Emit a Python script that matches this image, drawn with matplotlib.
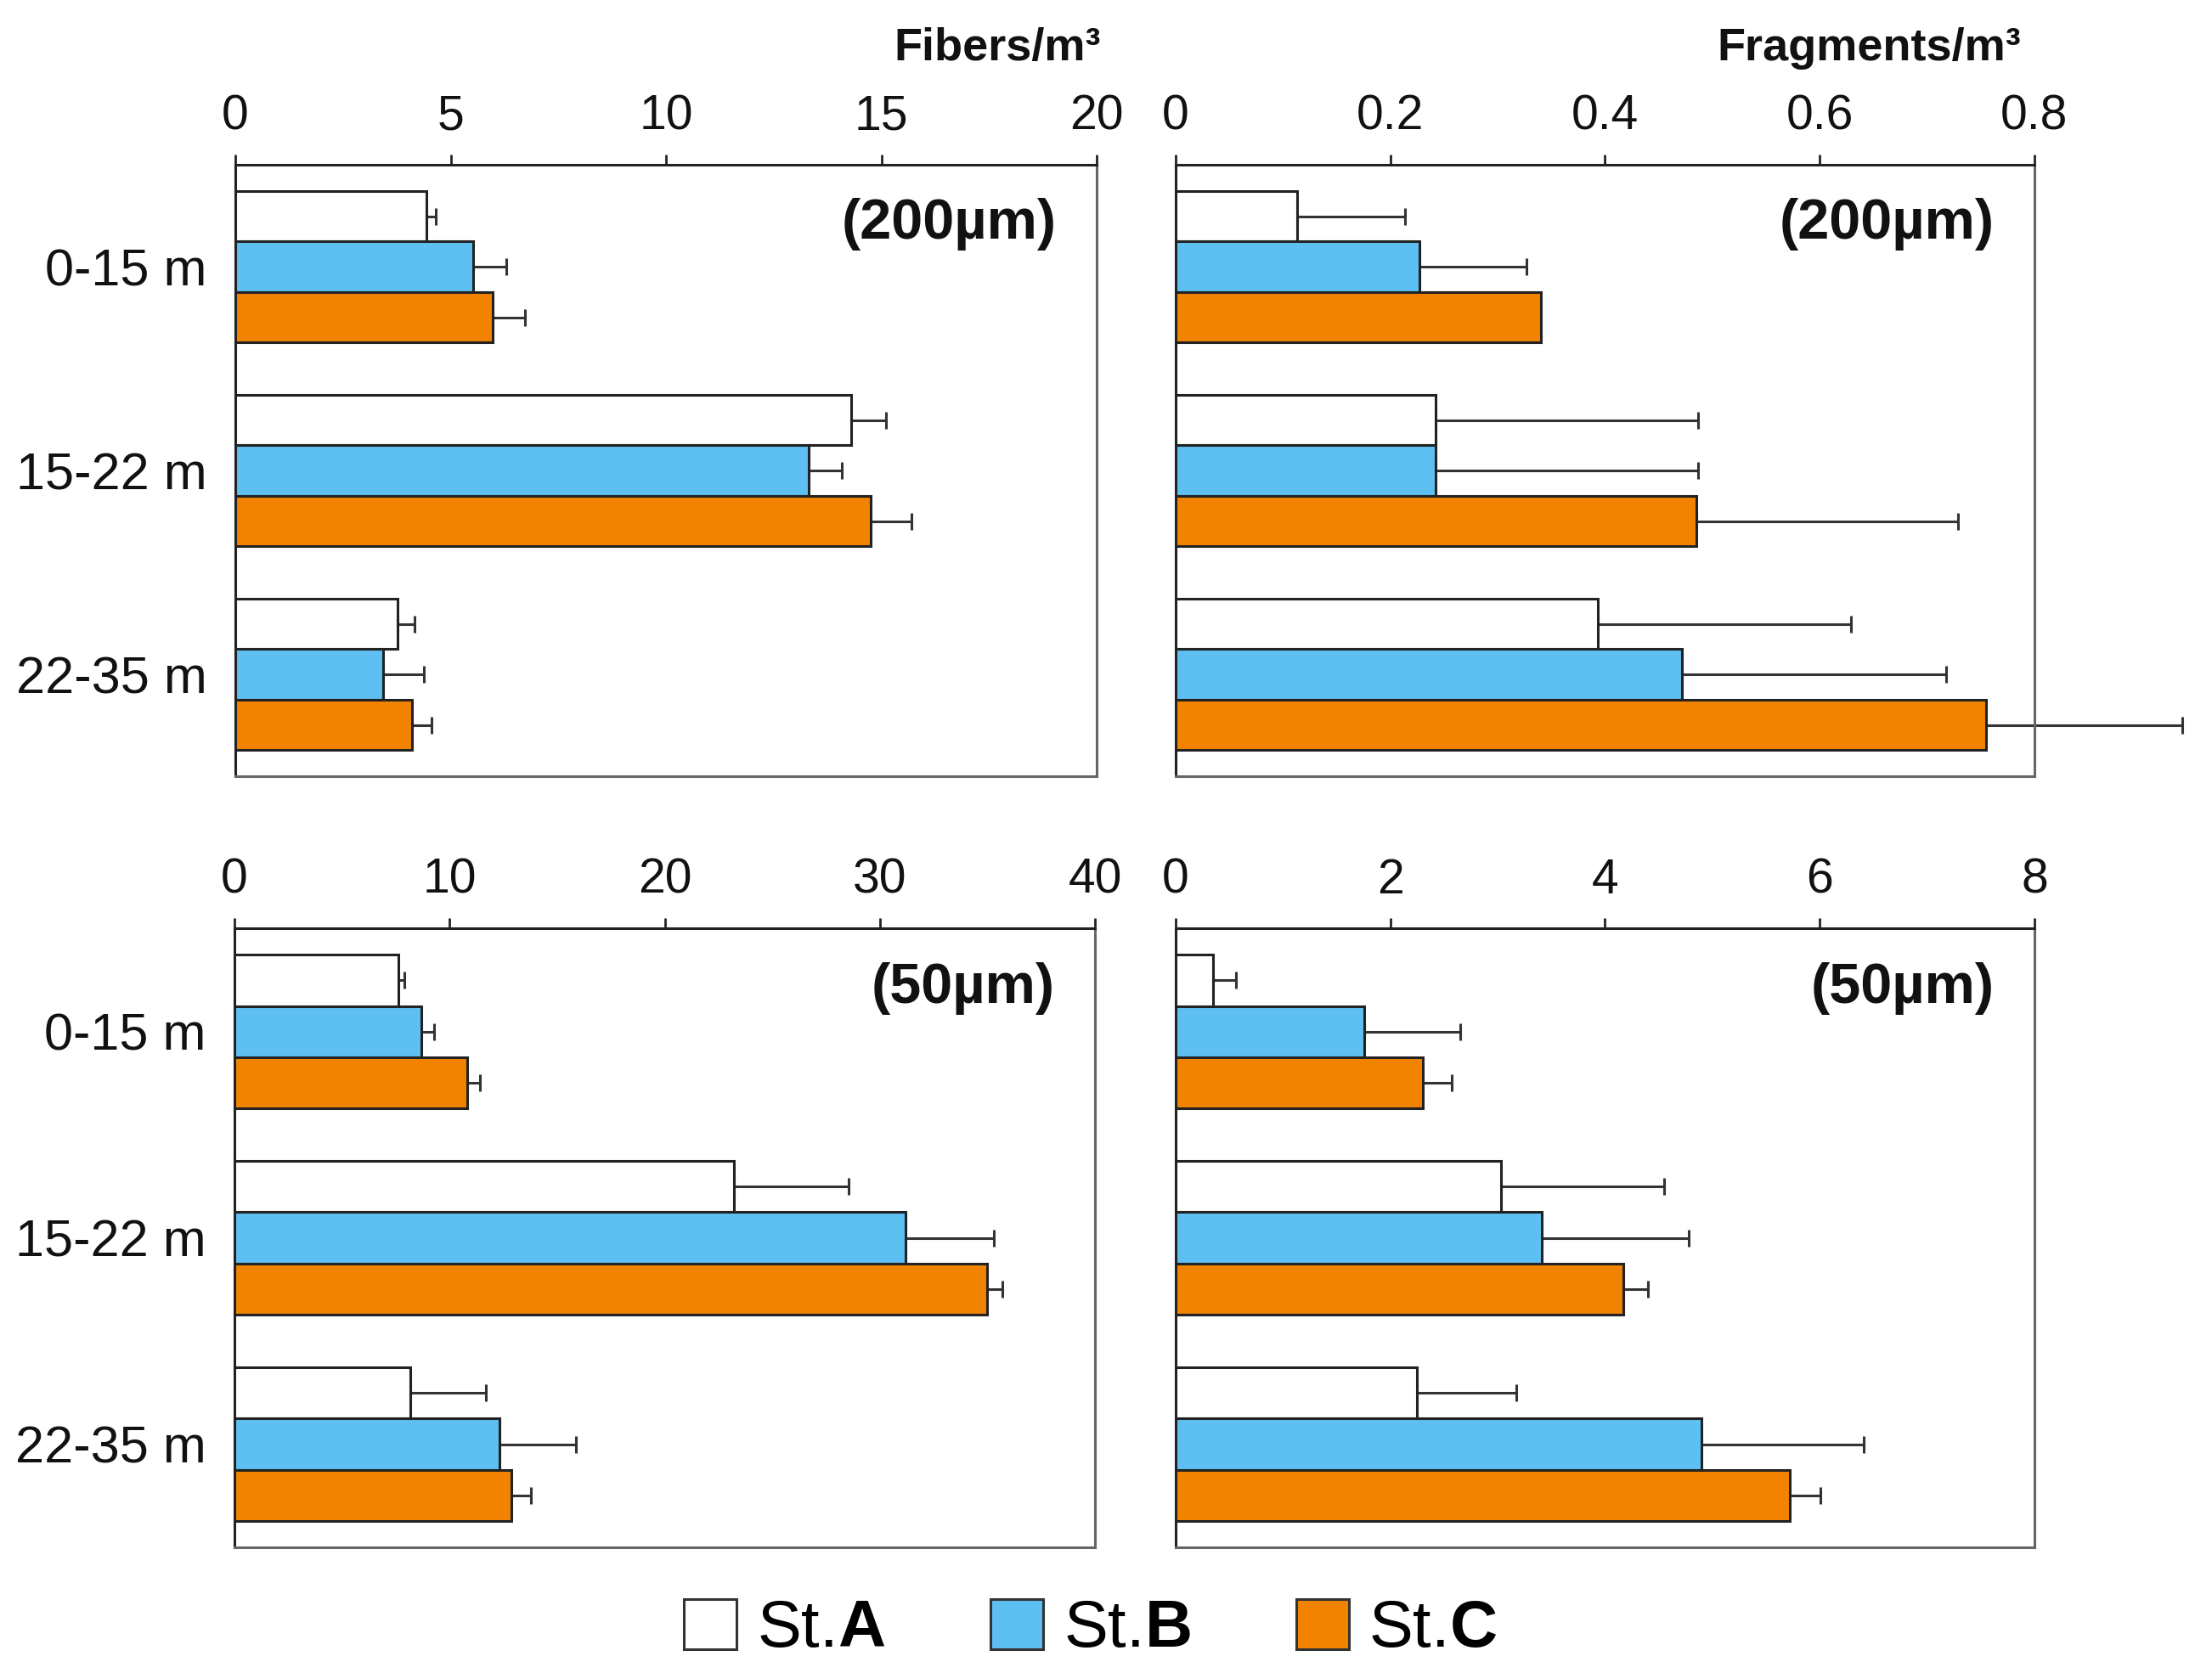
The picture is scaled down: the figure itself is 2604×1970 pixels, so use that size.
import matplotlib
matplotlib.use('Agg')
import matplotlib.pyplot as plt
import numpy as np
from matplotlib.patches import Patch

plt.rcParams['font.family'] = ['Liberation Sans', 'DejaVu Sans']
plt.rcParams['mathtext.fontset'] = 'custom'
plt.rcParams['mathtext.rm'] = 'Liberation Sans'
plt.rcParams['mathtext.bf'] = 'Liberation Sans:bold'

depths = ['0-15 m', '15-22 m', '22-35 m']
stations = ['A', 'B', 'C']
colors = ['#FFFFFF', '#5DBFF2', '#F18300']

# Fibers/m3, 200 um
fib200_mean = {'A': [4.44, 14.29, 3.76], 'B': [5.52, 13.31, 3.44], 'C': [5.97, 14.76, 4.11]}
fib200_err = {'A': [0.22, 0.82, 0.40], 'B': [0.77, 0.77, 0.93], 'C': [0.75, 0.93, 0.45]}
# Fragments/m3, 200 um
frag200_mean = {'A': [0.113, 0.242, 0.393], 'B': [0.227, 0.242, 0.472], 'C': [0.340, 0.485, 0.755]}
frag200_err = {'A': [0.101, 0.245, 0.236], 'B': [0.100, 0.245, 0.246], 'C': [0.0, 0.244, 0.183]}
# Fibers/m3, 50 um
fib50_mean = {'A': [7.63, 23.23, 8.17], 'B': [8.70, 31.20, 12.30], 'C': [10.83, 35.00, 12.87]}
fib50_err = {'A': [0.27, 5.33, 3.53], 'B': [0.57, 4.10, 3.57], 'C': [0.57, 0.70, 0.90]}
# Fragments/m3, 50 um
frag50_mean = {'A': [0.35, 3.03, 2.25], 'B': [1.76, 3.41, 4.90], 'C': [2.30, 4.17, 5.72]}
frag50_err = {'A': [0.21, 1.52, 0.92], 'B': [0.89, 1.37, 1.51], 'C': [0.27, 0.23, 0.29]}

fib200_ticks = [0, 5, 10, 15, 20]
frag200_ticks = [0, 0.2, 0.4, 0.6, 0.8]
fib50_ticks = [0, 10, 20, 30, 40]
frag50_ticks = [0, 2, 4, 6, 8]

fig = plt.figure(figsize=(26.04, 19.70), dpi=100)

panels = [
    ([0.1064, 0.536, 0.3894, 0.3655], fib200_mean, fib200_err, fib200_ticks, ['0', '5', '10', '15', '20'], '(200µm)', True),
    ([0.5315, 0.536, 0.3882, 0.3655], frag200_mean, frag200_err, frag200_ticks, ['0', '0.2', '0.4', '0.6', '0.8'], '(200µm)', False),
    ([0.1060, 0.0751, 0.3890, 0.370], fib50_mean, fib50_err, fib50_ticks, ['0', '10', '20', '30', '40'], '(50µm)', True),
    ([0.5315, 0.0751, 0.3882, 0.370], frag50_mean, frag50_err, frag50_ticks, ['0', '2', '4', '6', '8'], '(50µm)', False),
]

bh = 0.248
offsets = [-bh, 0, bh]
y = np.arange(len(depths))

for pos, means, errs, ticks, ticklabels, tag, show_y in panels:
    ax = fig.add_axes(pos)
    for k, st in enumerate(stations):
        yy = y + offsets[k]
        ax.barh(yy, means[st], height=bh, color=colors[k], edgecolor='#222222',
                linewidth=2.2, zorder=3)
        for yi, m, e in zip(yy, means[st], errs[st]):
            if e > 0:
                ax.errorbar(m, yi, xerr=[[0], [e]], fmt='none', ecolor='#333333',
                            elinewidth=2.2, capsize=7, capthick=2.2, clip_on=False, zorder=2)
    ax.set_xlim(ticks[0], ticks[-1])
    ax.set_ylim(2.5, -0.5)
    ax.xaxis.tick_top()
    ax.set_xticks(ticks)
    ax.set_xticklabels(ticklabels)
    ax.tick_params(axis='x', direction='out', length=9, width=2, labelsize=41, pad=12,
                   colors='#222222', labelcolor='#111111')
    ax.set_yticks(y)
    if show_y:
        ax.set_yticklabels(depths)
    else:
        ax.set_yticklabels([])
    ax.tick_params(axis='y', length=0, labelsize=44, pad=24, labelcolor='#111111')
    for s in ['left', 'top']:
        ax.spines[s].set_color('#222222')
        ax.spines[s].set_linewidth(2.2)
    for s in ['right', 'bottom']:
        ax.spines[s].set_color('#666666')
        ax.spines[s].set_linewidth(2.2)
    ax.text(0.953, 0.903, tag, transform=ax.transAxes, ha='right', va='center',
            fontsize=48, fontweight='bold', color='#111111')

fig.text(0.4977, 0.971, 'Fibers/m³', ha='right', va='center', fontsize=39, fontweight='bold', color='#111111')
fig.text(0.9136, 0.971, 'Fragments/m³', ha='right', va='center', fontsize=39, fontweight='bold', color='#111111')

handles = [Patch(facecolor=c, edgecolor='#333333', linewidth=2.2) for c in colors]
labels = [r'St.$\mathbf{A}$', r'St.$\mathbf{B}$', r'St.$\mathbf{C}$']
fig.legend(handles, labels, loc='center', bbox_to_anchor=(0.493, 0.026), ncol=3,
           frameon=False, fontsize=56, handlelength=0.8, handleheight=0.8,
           handletextpad=0.3, columnspacing=1.6)

fig.savefig('out.png', dpi=100)
